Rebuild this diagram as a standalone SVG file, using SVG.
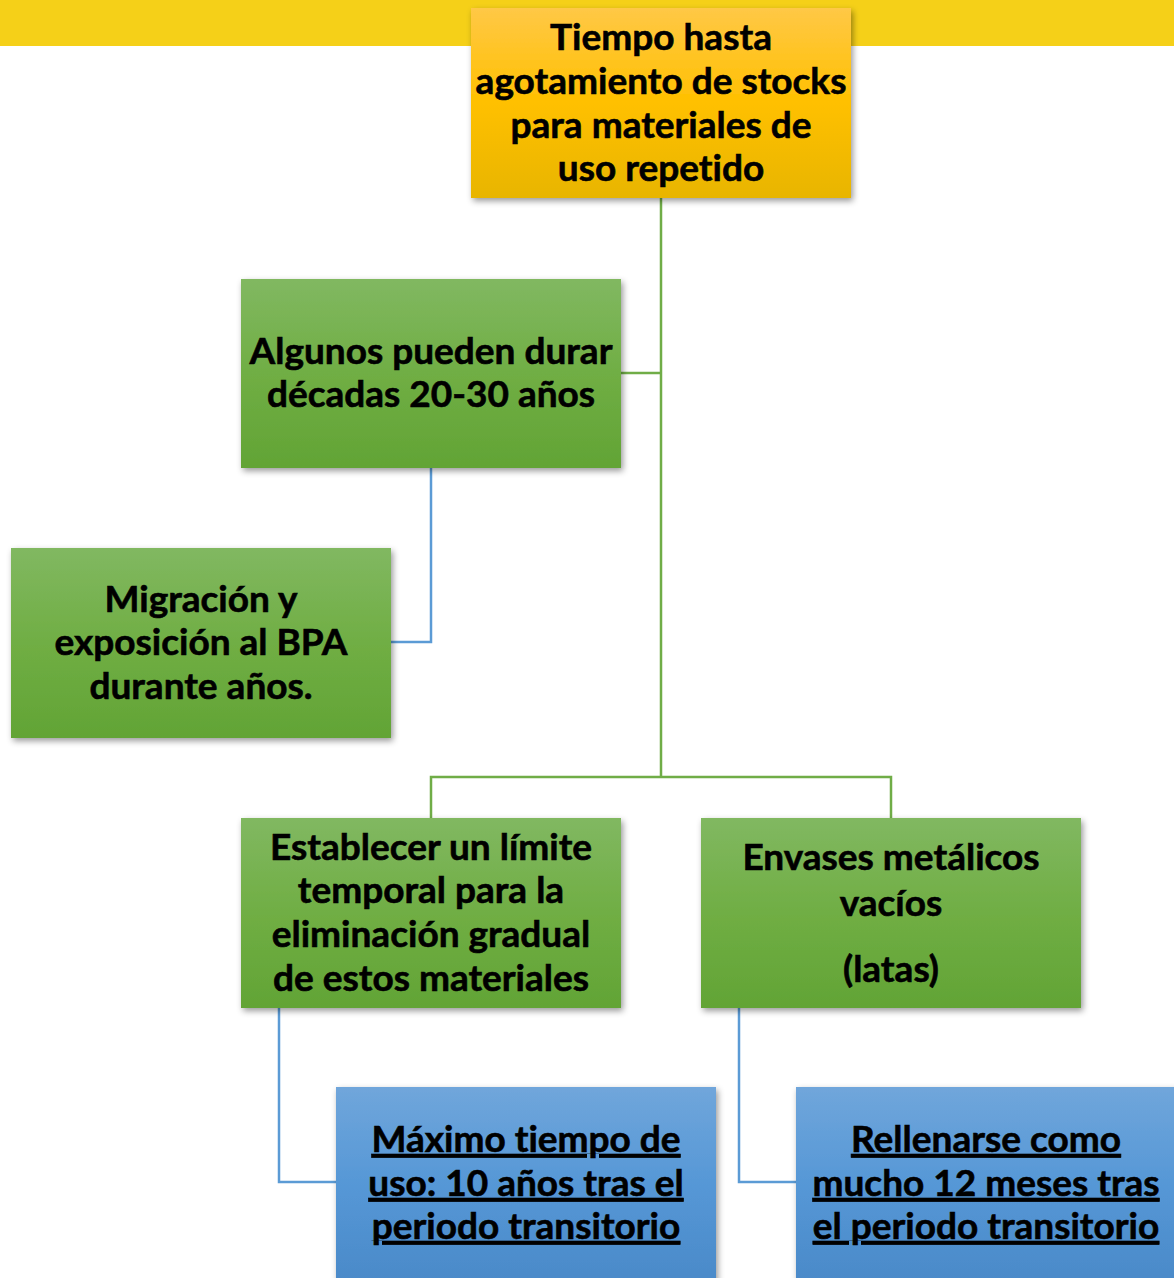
<svg xmlns="http://www.w3.org/2000/svg" width="1174" height="1278" viewBox="0 0 1174 1278">
<defs>
<linearGradient id="gOr" x1="0" y1="0" x2="0" y2="1"><stop offset="0" stop-color="#FFC846"/><stop offset="0.5" stop-color="#FFC000"/><stop offset="1" stop-color="#E8B500"/></linearGradient>
<linearGradient id="gGr" x1="0" y1="0" x2="0" y2="1"><stop offset="0" stop-color="#81B861"/><stop offset="0.5" stop-color="#70AE44"/><stop offset="1" stop-color="#62A435"/></linearGradient>
<linearGradient id="gBl" x1="0" y1="0" x2="0" y2="1"><stop offset="0" stop-color="#70A6DB"/><stop offset="0.5" stop-color="#5597D6"/><stop offset="1" stop-color="#4A89C8"/></linearGradient>
<filter id="sh" x="-10%" y="-10%" width="125%" height="125%"><feDropShadow dx="2" dy="3" stdDeviation="3" flood-color="#000" flood-opacity="0.4"/></filter>
</defs>
<style>
.t{font-family:Lato,"Liberation Sans",sans-serif;font-weight:700;font-size:37px;fill:#000;stroke:#000;stroke-width:0.6;text-anchor:middle;font-variant-ligatures:none;font-feature-settings:"liga" 0}
.u{text-decoration:underline}
.g{fill:none;stroke:#70AD47;stroke-width:2.5}
.b{fill:none;stroke:#5B9BD5;stroke-width:2.5}
</style>
<rect x="0" y="0" width="1174" height="46" fill="#F5D018"/>
<g id="connectors">
<path class="g" d="M661 198V777M621 373H661M431 818V777H891V818"/>
<path class="b" d="M431 468V642H391"/>
<path class="b" d="M279 1008V1182H336"/>
<path class="b" d="M739 1008V1182H796"/>
</g>
<g id="n1">
<rect x="471" y="8" width="380" height="190" fill="url(#gOr)" filter="url(#sh)"/>
<text class="t"><tspan x="661" y="50">Tiempo hasta</tspan><tspan x="661" y="94">agotamiento de stocks</tspan><tspan x="661" y="138">para materiales de</tspan><tspan x="661" y="181">uso repetido</tspan></text>
</g>
<g id="n2">
<rect x="241" y="279" width="380" height="189" fill="url(#gGr)" filter="url(#sh)"/>
<text class="t"><tspan x="431" y="364">Algunos pueden durar</tspan><tspan x="431" y="407">décadas 20-30 años</tspan></text>
</g>
<g id="n3">
<rect x="11" y="548" width="380" height="190" fill="url(#gGr)" filter="url(#sh)"/>
<text class="t"><tspan x="201" y="612">Migración y</tspan><tspan x="201" y="655">exposición al BPA</tspan><tspan x="201" y="699">durante años.</tspan></text>
</g>
<g id="n4">
<rect x="241" y="818" width="380" height="190" fill="url(#gGr)" filter="url(#sh)"/>
<text class="t"><tspan x="431" y="860">Establecer un límite</tspan><tspan x="431" y="903">temporal para la</tspan><tspan x="431" y="947">eliminación gradual</tspan><tspan x="431" y="991">de estos materiales</tspan></text>
</g>
<g id="n5">
<rect x="701" y="818" width="380" height="190" fill="url(#gGr)" filter="url(#sh)"/>
<text class="t"><tspan x="891" y="870">Envases metálicos</tspan><tspan x="891" y="916">vacíos</tspan><tspan x="891" y="982">(latas)</tspan></text>
</g>
<g id="n6">
<rect x="336" y="1087" width="380" height="200" fill="url(#gBl)" filter="url(#sh)"/>
<text class="t u"><tspan x="526" y="1152">Máximo tiempo de</tspan><tspan x="526" y="1196">uso: 10 años tras el</tspan><tspan x="526" y="1239">periodo transitorio</tspan></text>
</g>
<g id="n7">
<rect x="796" y="1087" width="390" height="200" fill="url(#gBl)" filter="url(#sh)"/>
<text class="t u"><tspan x="986" y="1152">Rellenarse como</tspan><tspan x="986" y="1196">mucho 12 meses tras</tspan><tspan x="986" y="1239">el periodo transitorio</tspan></text>
</g>
</svg>
